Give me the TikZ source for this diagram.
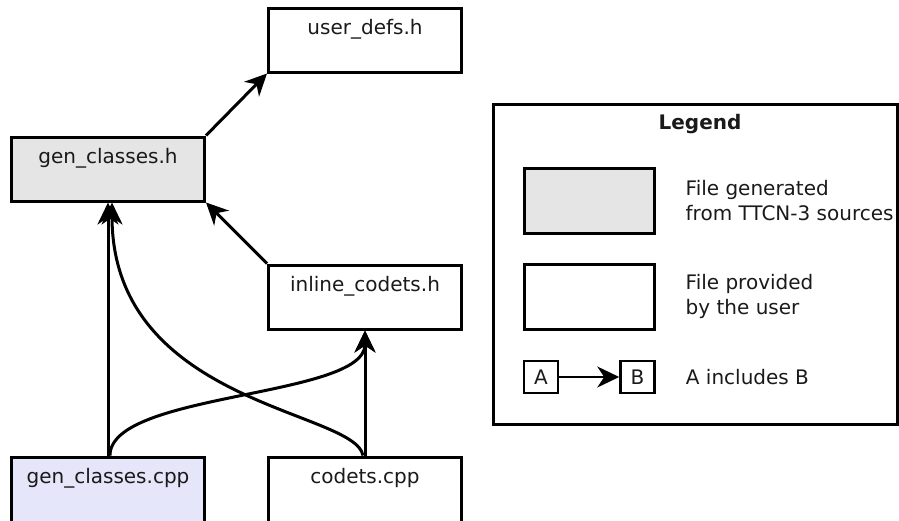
\documentclass[tikz,border=0pt]{standalone}
\usepackage{fontspec}
\setmainfont{DejaVu Sans}
\usetikzlibrary{arrows.meta}
\definecolor{genfill}{HTML}{E5E5E5}
\definecolor{cppfill}{HTML}{E6E6FA}
\definecolor{ink}{HTML}{1A1A1A}
\begin{document}
\begin{tikzpicture}[x=1pt,y=-1pt,
  every node/.style={font=\fontsize{20}{25}\selectfont, text=ink},
  filebox/.style={draw, line width=3pt, inner sep=0pt, minimum width=193pt,
    text height=26pt, text depth=38pt},
  cutbox/.style={filebox, text depth=60pt},
  tip/.style={-{Stealth[length=22pt,width=21pt,inset=7pt]}},
  inc/.style={line width=3pt, tip},
  swatch/.style={draw, line width=3pt, inner sep=0pt, minimum width=130pt, minimum height=65pt},
  smallbox/.style={draw, line width=2.5pt, inner sep=0pt, minimum width=34pt, minimum height=32pt},
  desc/.style={anchor=west, align=left, inner sep=0pt}]
\useasboundingbox (0,0) rectangle (899,520);
\clip (0,0) rectangle (899,520);

% file nodes
\node[filebox] (ud) at (365,40) {user\_defs.h};
\node[filebox, fill=genfill] (gch) at (108,169) {gen\_classes.h};
\node[filebox] (inl) at (365,297) {inline\_codets.h};
\node[cutbox, fill=cppfill] (gccpp) at (108,500) {gen\_classes.cpp};
\node[cutbox] (codets) at (365,500) {codets.cpp};

% include relations
\draw[inc] (gch.north east) -- (ud.south west);
\draw[inc] (inl.north west) -- (gch.south east);
\draw[inc] (gccpp.north) -- (gch.south);
\draw[inc] (codets.north) -- (inl.south);
\draw[inc] ([xshift=2pt]gccpp.north) .. controls (110,392) and (365,398) .. (inl.south);
\draw[inc] ([xshift=-2pt]codets.north) .. controls (355,410) and (112,405) .. ([xshift=4pt]gch.south);

% legend
\node[draw, line width=3pt, inner sep=0pt, minimum width=404pt, minimum height=320pt] (legend) at (695,264) {};
\node[anchor=base, font=\fontsize{20}{25}\selectfont\bfseries] (legtitle) at (700,129) {Legend};
\node[swatch, fill=genfill] (sgen) at (589,200.5) {};
\node[swatch] (suser) at (589,296.5) {};
\node[desc] (dgen) at ([xshift=30pt]sgen.east) {File generated\\from TTCN-3 sources};
\node[desc] (duser) at ([xshift=30pt]suser.east) {File provided\\by the user};
\node[smallbox] (ba) at (541,377) {A};
\node[smallbox] (bb) at (637.5,377) {B};
\draw[line width=2pt, tip] (ba) -- (bb);
\node[desc] (dinc) at ([xshift=30pt]bb.east) {A includes B};
\end{tikzpicture}
\end{document}
